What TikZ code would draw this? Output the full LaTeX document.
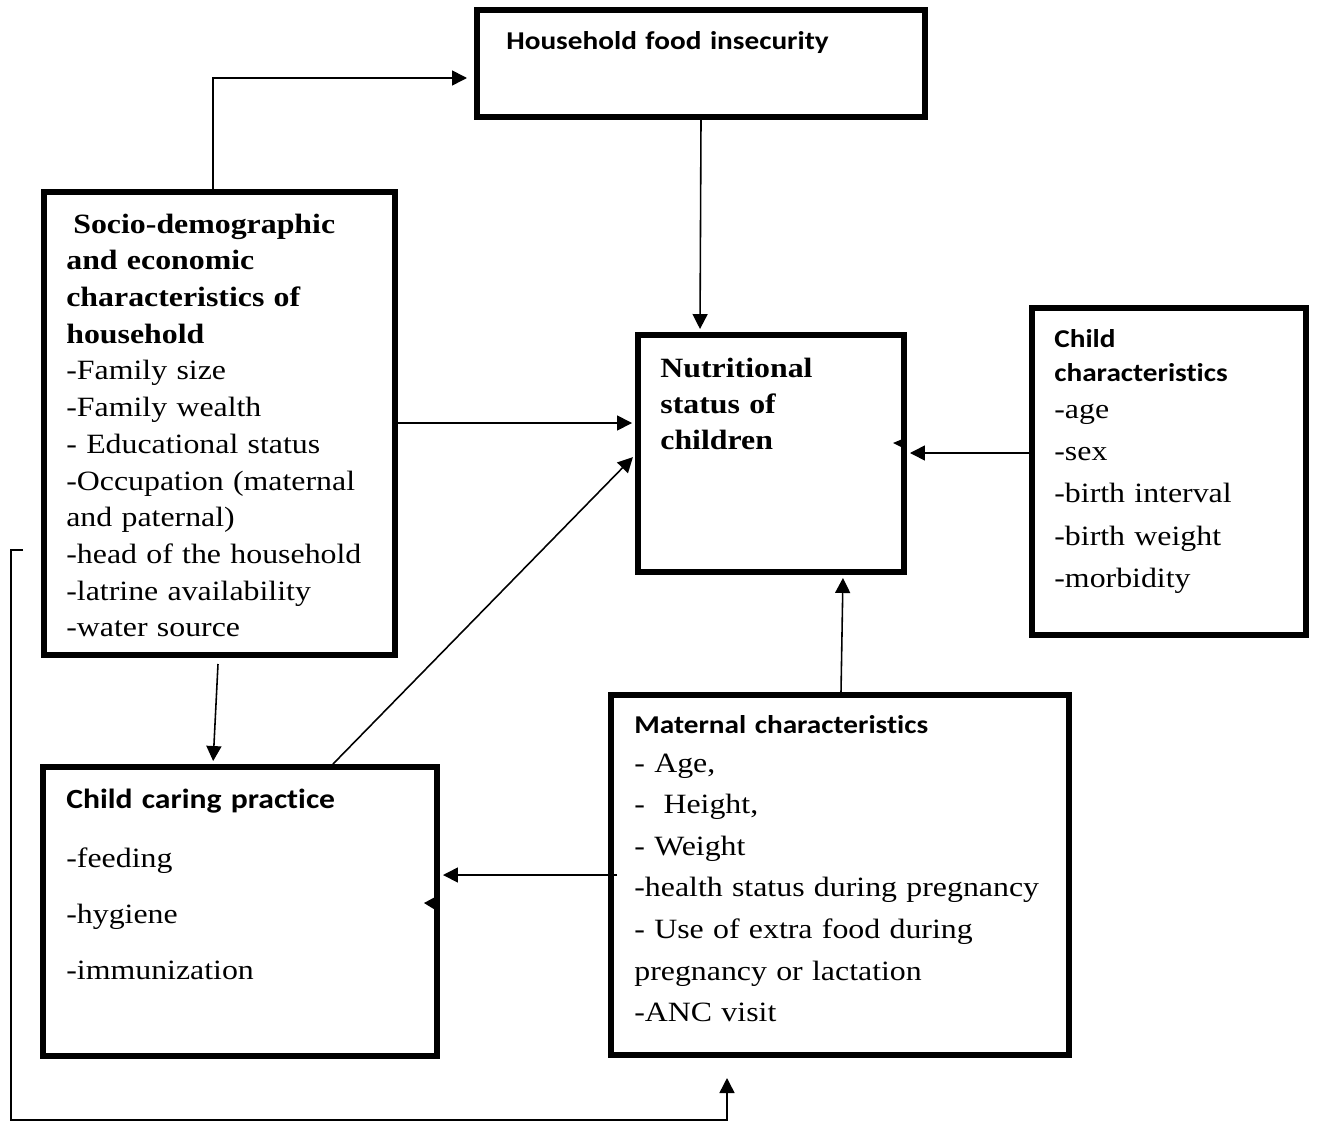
\documentclass[tikz,border=0pt]{standalone}
\usepackage{fontspec}
\setmainfont{Liberation Serif}[FakeStretch=1.14]
\newfontfamily\calibri{Carlito}[FakeStretch=1.14, Ligatures=CommonOff]
\usetikzlibrary{arrows.meta,fit}
\begin{document}
\begin{tikzpicture}[x=0.02cm,y=-0.02cm,
    box/.style={draw, line width=3.4pt, inner sep=0pt},
    conn/.style={line width=0.9pt, -{Triangle[length=0.3cm,width=0.3cm]}},
    tobox/.style={conn, shorten >=1.7pt},
    txt/.style={anchor=base west, inner sep=0pt, text width=9cm, align=left},
    serif/.style={txt, font=\fontsize{15.9}{20.9}\selectfont},
    sans/.style={txt, font=\calibri\bfseries\fontsize{14.6}{19.9}\selectfont}]
  \useasboundingbox (0,0) rectangle (1317,1122);

  \node[box, fit={(477,10) (925,117)}] (food) {};
  \node[box, fit={(44,192) (395,655)}] (socio) {};
  \node[box, fit={(638,335) (904,572)}] (nutri) {};
  \node[box, fit={(1032,308) (1306,635)}] (chars) {};
  \node[box, fit={(611,695) (1069,1055)}] (mat) {};
  \node[box, fit={(43,767) (437,1056)}] (caring) {};

  \node[sans] (foodt) at (506,50) {Household food insecurity};
  \node[serif] (sociot) at (66,233) {\hspace{0.14cm}\textbf{Socio-demographic}\\\textbf{and economic}\\\textbf{characteristics of}\\\textbf{household}\\-Family size\\-Family wealth\\- Educational status\\-Occupation (maternal\\and paternal)\\-head of the household\\-latrine availability\\-water source};
  \node[txt, font=\bfseries\fontsize{15.9}{20.7}\selectfont] (nutrit) at (660,377) {Nutritional\\status of\\children};
  \node[sans] (charst) at (1054,347) {Child\\characteristics};
  \node[serif, font=\fontsize{15.9}{24.1}\selectfont] (charsl) at (1054,418) {-age\\-sex\\-birth interval\\-birth weight\\-morbidity};
  \node[sans] (matt) at (634,733) {Maternal characteristics};
  \node[serif, font=\fontsize{15.9}{23.7}\selectfont] (matl) at (634,772) {- Age,\\-\ \ Height,\\- Weight\\-health status during pregnancy\\- Use of extra food during\\pregnancy or lactation\\-ANC visit};
  \node[sans, font=\calibri\bfseries\fontsize{15.8}{19.9}\selectfont] (cart) at (66,808) {Child caring practice};
  \node[serif, font=\fontsize{15.9}{32}\selectfont] (carl) at (66,867) {-feeding\\-hygiene\\-immunization};

  \coordinate (foodin) at (467,78);
  \coordinate (socout) at (218,664);
  \coordinate (matout) at (617,875);
  \coordinate (loopin) at (23,550);
  \coordinate (loopout) at (727,1078);

  \draw[conn] (213,0 |- socio.north) |- (foodin);
  \draw[tobox] (food.south) -- (700,0 |- nutri.north);
  \draw[tobox] (socio.east |- 0,423) -- (nutri.west |- 0,423);
  \draw[tobox] (socout) -- (213,0 |- caring.north);
  \draw[tobox] (333,0 |- caring.north) -- (nutri.west |- 0,455);
  \draw[tobox] (chars.west |- 0,453) -- (nutri.east |- 0,453);
  \draw[tobox] (841,0 |- mat.north) -- (843,0 |- nutri.south);
  \draw[tobox] (matout) -- (caring.east |- 0,875);
  \draw[conn] (loopin) -- (11,0 |- loopin) |- (loopout |- 0,1120) -- (loopout);

  \fill (893,443) -- (905,438) -- (905,449) -- cycle;
  \fill (424,903) -- (437,896) -- (437,911) -- cycle;
\end{tikzpicture}
\end{document}
